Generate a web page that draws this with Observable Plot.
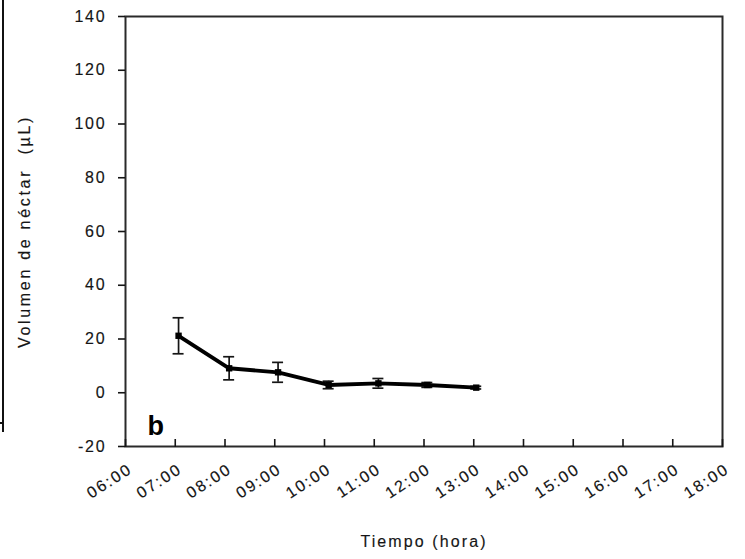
<!DOCTYPE html>
<html>
<head>
<meta charset="utf-8">
<script src="https://cdn.jsdelivr.net/npm/d3@7"></script>
<script src="https://cdn.jsdelivr.net/npm/@observablehq/plot@0.6"></script>
<style>
  html, body { margin: 0; padding: 0; background: #fff; }
  #wrap { position: relative; width: 745px; height: 559px; overflow: hidden; }
  #frag { position: absolute; left: 2px; top: 0; width: 2px; height: 432px; background: #111; }
  #fragtick { position: absolute; left: 0; top: 422px; width: 4px; height: 1.5px; background: #111; }
  #wrap svg text { stroke: #1a1a1a; stroke-width: 0.15px; }
</style>
</head>
<body>
<div id="wrap"><div id="frag"></div><div id="fragtick"></div></div>
<script>
// Data
const times = ["07:04", "08:05", "09:04", "10:05", "11:05", "12:04", "13:03"];
const means = [21.2, 9.1, 7.6, 2.9, 3.5, 2.9, 1.9];
const errs  = [6.7, 4.3, 3.7, 1.4, 1.8, 0.9, 0.5];
const xTickLabels = ["06:00","07:00","08:00","09:00","10:00","11:00","12:00","13:00","14:00","15:00","16:00","17:00","18:00"];
const yTicks = [-20, 0, 20, 40, 60, 80, 100, 120, 140];
const panelLetter = "b";
const xLabel = "Tiempo (hora)";
const yLabel = "Volumen de néctar\u00a0 (µL)";

const toHours = s => { const [h, m] = s.split(":").map(Number); return h + m / 60; };
const data = times.map((t, i) => ({hour: toHours(t), mean: means[i], lo: means[i] - errs[i], hi: means[i] + errs[i]}));
const xTicks = xTickLabels.map(toHours);

const ink = "#151515";

const chart = Plot.plot({
  width: 745,
  height: 559,
  marginLeft: 125,
  marginRight: 23,
  marginTop: 16,
  marginBottom: 113,
  style: {fontFamily: "'Liberation Sans', Arial, sans-serif", fontSize: "16px", color: ink, background: "transparent", letterSpacing: "1.8px"},
  x: {domain: [6, 18], axis: null},
  y: {domain: [-20, 140], axis: null},
  marks: [
    Plot.frame({stroke: "#2a2a2a", strokeWidth: 2}),
    // y axis ticks and labels
    Plot.axisY({ticks: yTicks, tickSize: 7, tickPadding: 12, tickFormat: d => String(d), label: null, stroke: ink, strokeWidth: 1.6, fill: ink}),
    // x ticks (pointing inward)
    Plot.ruleX(xTicks, {x: d => d, y1: -20, y2: -20, insetTop: -7, insetBottom: -1, stroke: ink, strokeWidth: 1.6}),
    // x tick labels rotated
    Plot.text(xTicks, {x: d => d, frameAnchor: "bottom", text: (d, i) => xTickLabels[i], rotate: -33, textAnchor: "end", lineAnchor: "middle", dx: 5, dy: 21, fill: ink}),
    // error bars
    Plot.ruleX(data, {x: "hour", y1: "lo", y2: "hi", stroke: ink, strokeWidth: 1.7}),
    Plot.ruleY(data, {y: "hi", x1: "hour", x2: "hour", insetLeft: -5.5, insetRight: -5.5, stroke: ink, strokeWidth: 1.7}),
    Plot.ruleY(data, {y: "lo", x1: "hour", x2: "hour", insetLeft: -5.5, insetRight: -5.5, stroke: ink, strokeWidth: 1.7}),
    // line and markers
    Plot.line(data, {x: "hour", y: "mean", stroke: "#000", strokeWidth: 3.9}),
    Plot.dot(data, {x: "hour", y: "mean", symbol: "square", r: 3.6, fill: "#000", stroke: "none"}),
    // panel letter
    Plot.text([panelLetter], {frameAnchor: "bottom-left", dx: 22, dy: -12, fontSize: 27, fontWeight: "bold", fill: "#000"}),
    // axis titles
    Plot.text([xLabel], {frameAnchor: "bottom", dy: 100, fill: ink}),
    Plot.text([yLabel], {frameAnchor: "left", textAnchor: "middle", dx: -101, rotate: -90, fill: ink})
  ]
});

// fine-tune letter spacing of individual texts
d3.select(chart).selectAll("text").each(function () {
  const t = this.textContent;
  if (t === yLabel) this.style.letterSpacing = "2.7px";
  else if (t === xLabel) this.style.letterSpacing = "2.1px";
  else if (t === panelLetter) { this.style.letterSpacing = "0px"; this.style.stroke = "none"; }
  else if (xTickLabels.includes(t)) this.style.letterSpacing = "2px";
});

document.getElementById("wrap").appendChild(chart);
chart.style.position = "absolute";
chart.style.left = "0";
chart.style.top = "0";
</script>
</body>
</html>
